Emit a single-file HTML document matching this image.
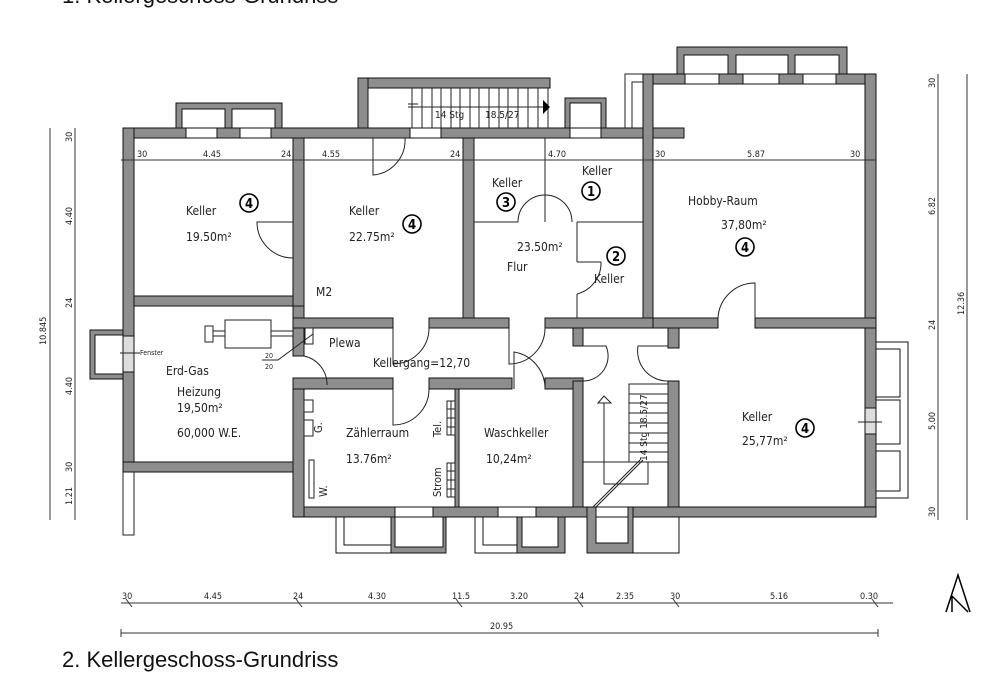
<!DOCTYPE html>
<html><head><meta charset="utf-8"><style>
html,body{margin:0;padding:0;background:#fff;}
svg{display:block;}
text{font-family:"DejaVu Sans Condensed","DejaVu Sans","Liberation Sans",sans-serif;fill:#222;}
.w{fill:#8e8e8e;stroke:#111;stroke-width:1;}
.l{stroke:#222;stroke-width:1;fill:none;}
.d{stroke:#333;stroke-width:1;fill:none;}
.c{fill:#fff;stroke:#000;stroke-width:1.6;}
.n{font-weight:bold;font-size:13px;fill:#000;}
</style></head><body>
<svg width="1000" height="673" viewBox="0 0 1000 673" xmlns="http://www.w3.org/2000/svg">
<text x="62" y="3" style="font-family:'Liberation Sans',sans-serif;font-size:22px;fill:#111">1. Kellergeschoss-Grundriss</text>

<rect x="176" y="103" width="106" height="26" class="w"/>
<rect x="182" y="109" width="43" height="20" fill="#fff" stroke="#111"/>
<rect x="232" y="109" width="43" height="20" fill="#fff" stroke="#111"/>
<rect x="565" y="98" width="41" height="32" class="w"/>
<rect x="570" y="103" width="31" height="27" fill="#fff" stroke="#111"/>
<rect x="677" y="47" width="170" height="30" class="w"/>
<rect x="684" y="55" width="44" height="22" fill="#fff" stroke="#111"/>
<rect x="736" y="55" width="52" height="22" fill="#fff" stroke="#111"/>
<rect x="795" y="55" width="44" height="22" fill="#fff" stroke="#111"/>
<rect x="358" y="78" width="192" height="10" class="w"/>
<rect x="358" y="78" width="10" height="60" class="w"/>
<rect x="123" y="128" width="561" height="10" class="w"/>
<rect x="643" y="74" width="233" height="10" class="w"/>
<path d="M625 128 V74 H643" class="l"/><path d="M632 128 V82 H643" class="l"/>
<rect x="123" y="128" width="11" height="344" class="w"/>
<rect x="643" y="74" width="10" height="254" class="w"/>
<rect x="865" y="74" width="11" height="443" class="w"/>
<rect x="123" y="462" width="181" height="10" class="w"/>
<rect x="293" y="507" width="583" height="10" class="w"/>
<rect x="293" y="138" width="11" height="180" class="w"/>
<rect x="463" y="138" width="11" height="190" class="w"/>
<rect x="134" y="296" width="159" height="10" class="w"/>
<rect x="293" y="306" width="11" height="50" class="w"/>
<rect x="293" y="385" width="11" height="132" class="w"/>
<rect x="293" y="318" width="100" height="10" class="w"/>
<rect x="429" y="318" width="80" height="10" class="w"/>
<rect x="545" y="318" width="108" height="10" class="w"/>
<rect x="653" y="318" width="65" height="10" class="w"/>
<rect x="755" y="318" width="121" height="10" class="w"/>
<rect x="293" y="378" width="100" height="11" class="w"/>
<rect x="429" y="378" width="83" height="11" class="w"/>
<rect x="545" y="378" width="38" height="11" class="w"/>
<rect x="455" y="389" width="4" height="118" class="w"/>
<rect x="573" y="328" width="10" height="18" class="w"/>
<rect x="573" y="381" width="10" height="126" class="w"/>
<rect x="668" y="328" width="11" height="20" class="w"/>
<rect x="668" y="381" width="11" height="126" class="w"/>
<path d="M474 222 H518 M577 222 H643 M545 138 V222 M577 222 V262 M577 294 V318" class="l" stroke-width="2"/>
<path d="M518 222 A27 27 0 0 1 545 195 A27 27 0 0 1 572 222" class="l"/>
<path d="M577 262 H601 A32 32 0 0 1 577 294" class="l"/>
<path d="M373 138 V175 A35 35 0 0 0 405 138" class="l"/>
<path d="M293 222 H257 A36 36 0 0 0 293 258" class="l"/>
<path d="M755 318 V283 A37 37 0 0 0 718 318" class="l"/>
<path d="M393 328 V364 A36 36 0 0 0 429 328" class="l"/>
<path d="M509 328 V364 A36 36 0 0 0 545 328" class="l"/>
<path d="M514 389 V352 A37 37 0 0 1 545 389" class="l"/>
<path d="M393 389 V425 A36 36 0 0 0 429 389" class="l"/>
<path d="M304 356 A29 29 0 0 1 327 385" class="l"/>
<path d="M583 346 H606 A25 25 0 0 1 583 381 M668 381 A30 30 0 0 1 638 346 H668" class="l"/>
<g class="l">
<path d="M412 88 V128 M422 88 V128 M432 88 V128 M441 88 V128 M451 88 V128 M460 88 V128 M470 88 V128 M479 88 V128 M489 88 V128 M499 88 V128 M508 88 V128 M518 88 V128 M528 88 V128 M538 88 V128 M548 88 V128"/>
<path d="M408 107 H545"/><path d="M408 104 H418"/>
</g>
<path d="M543 100 L550 107 L543 114 Z" fill="#000"/>
<text x="435" y="118" font-size="10">14 Stg</text><text x="485" y="118" font-size="10">18.5/27</text>
<rect x="410" y="128" width="31" height="10" fill="#fff" stroke="#111"/>
<rect x="570" y="128" width="31" height="10" fill="#fff" stroke="#111"/>
<rect x="186" y="128" width="31" height="10" fill="#fff" stroke="#111"/>
<rect x="240" y="128" width="31" height="10" fill="#fff" stroke="#111"/>
<rect x="685" y="74" width="34" height="10" fill="#fff" stroke="#111"/>
<rect x="743" y="74" width="36" height="10" fill="#fff" stroke="#111"/>
<rect x="803" y="74" width="33" height="10" fill="#fff" stroke="#111"/>
<g class="l">
<rect x="629" y="384" width="39" height="78"/>
<path d="M629 394 H668 M629 403 H668 M629 413 H668 M629 423 H668 M629 433 H668 M629 443 H668 M629 452 H668"/>
<path d="M583 462 H648 V484 H604 V403 M598 403 L604 396 L611 403 Z"/>
<path d="M593 507 L640 460 M596 507 L643 460"/>
</g>
<text x="0" y="0" font-size="10" transform="translate(647,461) rotate(-90)">14 Stg 18.5/27</text>
<g>
<rect x="336" y="517" width="110" height="36" fill="#fff" stroke="#111"/>
<rect x="391" y="517" width="55" height="36" class="w"/>
<rect x="395" y="517" width="48" height="30" fill="#fff" stroke="#111"/>
<rect x="344" y="517" width="47" height="28" fill="#fff" stroke="#111"/>
<rect x="475" y="517" width="90" height="36" fill="#fff" stroke="#111"/>
<rect x="517" y="517" width="48" height="36" class="w"/>
<rect x="522" y="517" width="36" height="30" fill="#fff" stroke="#111"/>
<rect x="483" y="517" width="34" height="28" fill="#fff" stroke="#111"/>
<rect x="587" y="507" width="46" height="46" class="w"/>
<rect x="596" y="517" width="32" height="26" fill="#fff" stroke="#111"/>
<rect x="633" y="517" width="46" height="36" fill="#fff" stroke="#111"/>
<rect x="395" y="507" width="38" height="10" fill="#fff" stroke="#111"/>
<rect x="498" y="507" width="38" height="10" fill="#fff" stroke="#111"/>
<rect x="596" y="507" width="32" height="10" fill="#fff" stroke="#111"/>
</g>
<rect x="876" y="342" width="32" height="156" fill="#fff" stroke="#111"/>
<rect x="876" y="349" width="24" height="48" fill="#fff" stroke="#111"/>
<rect x="876" y="400" width="24" height="44" fill="#fff" stroke="#111"/>
<rect x="876" y="451" width="24" height="40" fill="#fff" stroke="#111"/>
<rect x="865" y="408" width="11" height="26" fill="#ddd" stroke="#111"/>
<path d="M858 422 H882" class="l"/>
<rect x="90" y="330" width="33" height="49" class="w"/>
<rect x="95" y="335" width="28" height="39" fill="#fff" stroke="#111"/>
<rect x="123" y="336" width="11" height="36" fill="#ddd" stroke="#111"/>
<path d="M120 353 H140" class="l"/>
<text x="140" y="355" font-size="7">Fenster</text>
<path d="M123 472 V535 H134 V472" class="l"/>
<rect x="205" y="326" width="8" height="16" class="l"/>
<rect x="225" y="320" width="46" height="28" class="l"/>
<path d="M213 331 H225 M213 336 H225 M271 331 H293 M271 336 H293" class="l"/>
<rect x="305" y="328" width="8" height="16" class="l"/>
<path d="M313 334 L278 360 H262" class="l"/>
<text x="265" y="358" font-size="7">20</text><text x="265" y="369" font-size="7">20</text>
<rect x="304" y="400" width="9" height="12" class="l"/><rect x="304" y="420" width="9" height="16" class="l"/>
<rect x="309" y="460" width="5" height="38" class="l"/>
<rect x="447" y="401" width="8" height="34" class="l"/><path d="M447 409 H455 M447 418 H455 M447 427 H455 M451 401 V435" class="l"/>
<rect x="447" y="463" width="8" height="34" class="l"/><path d="M447 471 H455 M447 480 H455 M447 489 H455 M451 463 V497" class="l"/>
<g font-size="12">
<text x="186" y="215">Keller</text><text x="186" y="241">19.50m²</text>
<text x="349" y="215">Keller</text><text x="349" y="241">22.75m²</text>
<text x="316" y="296">M2</text>
<text x="492" y="187">Keller</text><text x="582" y="175">Keller</text>
<text x="517" y="251">23.50m²</text><text x="507" y="271">Flur</text>
<text x="594" y="283">Keller</text>
<text x="688" y="205">Hobby-Raum</text><text x="721" y="229">37,80m²</text>
<text x="329" y="347">Plewa</text><text x="373" y="367">Kellergang=12,70</text>
<text x="166" y="375">Erd-Gas</text><text x="177" y="396">Heizung</text><text x="177" y="412">19,50m²</text><text x="177" y="437">60,000 W.E.</text>
<text x="346" y="437">Zählerraum</text><text x="346" y="463">13.76m²</text>
<text x="484" y="437">Waschkeller</text><text x="486" y="463">10,24m²</text>
<text x="742" y="421">Keller</text><text x="742" y="445">25,77m²</text>
</g>
<g font-size="11">
<text transform="translate(322,433) rotate(-90)">G.</text>
<text transform="translate(327,497) rotate(-90)">W.</text>
<text transform="translate(441,437) rotate(-90)">Tel.</text>
<text transform="translate(441,497) rotate(-90)">Strom</text>
</g>
<g><circle cx="249" cy="203" r="9" class="c"/><text x="245" y="208" class="n">4</text>
<circle cx="412" cy="224" r="9" class="c"/><text x="408" y="229" class="n">4</text>
<circle cx="506" cy="202" r="9" class="c"/><text x="502" y="207" class="n">3</text>
<circle cx="591" cy="191" r="9" class="c"/><text x="587" y="196" class="n">1</text>
<circle cx="616" cy="256" r="9" class="c"/><text x="612" y="261" class="n">2</text>
<circle cx="745" cy="247" r="9" class="c"/><text x="741" y="252" class="n">4</text>
<circle cx="805" cy="428" r="9" class="c"/><text x="801" y="433" class="n">4</text></g>
<path d="M121 160 H876" class="d"/>
<g font-size="9"><text x="137" y="157">30</text><text x="203" y="157">4.45</text><text x="281" y="157">24</text><text x="322" y="157">4.55</text><text x="450" y="157">24</text><text x="548" y="157">4.70</text><text x="655" y="157">30</text><text x="747" y="157">5.87</text><text x="850" y="157">30</text></g>
<path d="M50 128 V520" class="d"/>
<path d="M75 128 V520" class="d"/>
<g font-size="9">
<text transform="translate(72,142) rotate(-90)">30</text>
<text transform="translate(72,225) rotate(-90)">4.40</text>
<text transform="translate(72,308) rotate(-90)">24</text>
<text transform="translate(72,395) rotate(-90)">4.40</text>
<text transform="translate(72,472) rotate(-90)">30</text>
<text transform="translate(72,505) rotate(-90)">1.21</text>
<text transform="translate(46,345) rotate(-90)">10.845</text>
</g>
<path d="M938 74 V520" class="d"/><path d="M967 74 V520" class="d"/>
<g font-size="9">
<text transform="translate(935,88) rotate(-90)">30</text>
<text transform="translate(935,215) rotate(-90)">6.82</text>
<text transform="translate(935,330) rotate(-90)">24</text>
<text transform="translate(935,430) rotate(-90)">5.00</text>
<text transform="translate(935,517) rotate(-90)">30</text>
<text transform="translate(964,315) rotate(-90)">12.36</text>
</g>
<path d="M121 603 H893" class="d"/><path d="M121 633 H878" class="d"/>
<g font-size="9"><text x="122" y="599">30</text><text x="204" y="599">4.45</text><text x="293" y="599">24</text><text x="368" y="599">4.30</text><text x="452" y="599">11.5</text><text x="510" y="599">3.20</text><text x="574" y="599">24</text><text x="616" y="599">2.35</text><text x="670" y="599">30</text><text x="770" y="599">5.16</text><text x="860" y="599">0.30</text>
<text x="490" y="629">20.95</text></g>
<path d="M126 599 l6 8 M296 599 l6 8 M456 599 l6 8 M577 599 l6 8 M673 599 l6 8 M872 599 l6 8 M121 629 v8 M878 629 v8" class="d"/>
<path d="M946 612 L958 575 L970 612 M952 596 L968 612 M952 596 V612" stroke="#000" stroke-width="1.5" fill="none"/>
<text x="62" y="667" style="font-family:'Liberation Sans',sans-serif;font-size:22px;fill:#111">2. Kellergeschoss-Grundriss</text>
</svg>
</body></html>
